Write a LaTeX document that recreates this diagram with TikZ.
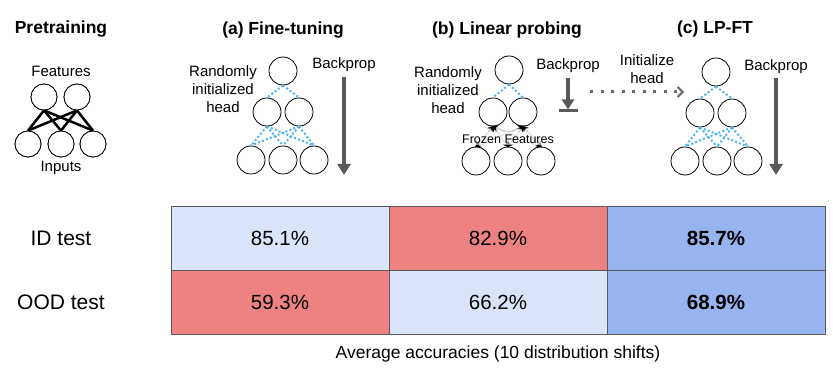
\documentclass[tikz,border=0pt]{standalone}
\usepackage{fontspec}
\setmainfont{Liberation Sans}
\usetikzlibrary{arrows.meta}
\definecolor{lblue}{HTML}{DAE4F8}
\definecolor{lred}{HTML}{ED8381}
\definecolor{mblue}{HTML}{95B4F0}
\definecolor{dotblue}{RGB}{80,180,240}
\definecolor{bpgray}{HTML}{595959}
\definecolor{frz}{HTML}{D0D0D0}
\begin{document}
\begin{tikzpicture}[x=1pt,y=-1pt,
  neuron/.style={circle,draw=black,line width=0.8pt,fill=white,minimum size=28pt,inner sep=0pt},
  pneuron/.style={neuron,minimum size=26pt},
  title/.style={font=\fontsize{17.5}{20}\selectfont\bfseries},
  lbl/.style={font=\fontsize{15}{18}\selectfont,align=center},
  hedge/.style={dotblue,line width=2pt,dash pattern=on 2pt off 2.2pt},
  pedge/.style={black,line width=2.5pt},
  fedge/.style={frz,line width=1.6pt,arrows={Stealth[color=black,length=6pt,width=6.5pt]-Stealth[color=black,length=6pt,width=6.5pt]}},
  bp/.style={bpgray,line width=4pt,-{Triangle[length=11pt,width=13pt]}},
  cell/.style={draw=gray!70!black,line width=0.8pt,minimum width=218pt,minimum height=64pt,inner sep=0pt,font=\fontsize{20.5}{24}\selectfont},
 ]
\useasboundingbox (0,0) rectangle (833,374);

% ---------- Pretraining ----------
\node[title] (tp) at (61,29) {Pretraining};
\node[lbl] (pfeat) at (61,71) {Features};
\node[pneuron] (p1) at (44,97) {};
\node[pneuron] (p2) at (77,97) {};
\node[pneuron] (q1) at (28,144) {};
\node[pneuron] (q2) at (61,144) {};
\node[pneuron] (q3) at (93,144) {};
\node[lbl] (pin) at (61,168) {Inputs};
\foreach \a in {p1,p2}{\foreach \b in {q1,q2,q3}{\draw[pedge] (\a.south) -- (\b.north);}}
\foreach \n in {p1,p2,q1,q2,q3}{\node[pneuron] at (\n) {};}

% ---------- (a) Fine-tuning ----------
\node[title] (ta) at (283,30) {(a) Fine-tuning};
\node[lbl] (ra) at (223,89) {Randomly\\initialized\\head};
\node[neuron] (a0) at (283,71) {};
\node[neuron] (a1) at (267,112) {};
\node[neuron] (a2) at (299,112) {};
\node[neuron] (a3) at (251,160) {};
\node[neuron] (a4) at (283,160) {};
\node[neuron] (a5) at (314,160) {};
\draw[hedge] (a0.south) -- (a1.north);
\draw[hedge] (a0.south) -- (a2.north);
\foreach \a in {a1,a2}{\foreach \b in {a3,a4,a5}{\draw[hedge] (\a.south) -- (\b.north);}}
\node[lbl] (bpa) at (344,65) {Backprop};
\coordinate (bpa1) at (344,77);
\coordinate (bpa2) at (344,175);
\draw[bp] (bpa1) -- (bpa2);

% ---------- (b) Linear probing ----------
\node[title] (tb) at (507,30) {(b) Linear probing};
\node[lbl] (rb) at (448,90) {Randomly\\initialized\\head};
\node[neuron] (b0) at (509,70) {};
\node[neuron] (b1) at (493,112) {};
\node[neuron] (b2) at (523,112) {};
\node[neuron] (b3) at (476,161) {};
\node[neuron] (b4) at (508,161) {};
\node[neuron] (b5) at (541,161) {};
\draw[hedge] (b0.south) -- (b1.north);
\draw[hedge] (b0.south) -- (b2.north);
\foreach \a in {b1,b2}{\foreach \b in {b3,b4,b5}{\draw[fedge,shorten <=-1pt,shorten >=-1pt] (\a.south) -- (\b.north);}}
\fill[white,opacity=0.55] (464,132.5) rectangle (552,145.5);
\node[font=\fontsize{12.5}{14}\selectfont,inner sep=0pt,text=black] (frozen) at (508,139) {Frozen Features};
\node[lbl] (bpb) at (568,66) {Backprop};
\coordinate (bpb1) at (568,78);
\coordinate (bpb2) at (568,109.5);
\coordinate (barl) at (559,111);
\coordinate (barr) at (578,111);
\draw[bpgray,line width=4pt,-{Triangle[length=10pt,width=12pt]}] (bpb1) -- (bpb2);
\draw[bpgray,line width=3pt] (barl) -- (barr);

% dotted initialize arrow
\node[lbl] (inith) at (647,69) {Initialize\\head};
\coordinate (ini1) at (590,92);
\coordinate (ini2) at (684,92);
\draw[bpgray!90,line width=3pt,dash pattern=on 3pt off 7.5pt,-{Straight Barb[length=5pt,width=10pt,line width=2pt]}] (ini1) -- (ini2);

% ---------- (c) LP-FT ----------
\node[title] (tc) at (715,29) {(c) LP-FT};
\node[neuron] (c0) at (716,72) {};
\node[neuron] (c1) at (700,113) {};
\node[neuron] (c2) at (732,113) {};
\node[neuron] (c3) at (685,161) {};
\node[neuron] (c4) at (717,161) {};
\node[neuron] (c5) at (748,161) {};
\draw[hedge] (c0.south) -- (c1.north);
\draw[hedge] (c0.south) -- (c2.north);
\foreach \a in {c1,c2}{\foreach \b in {c3,c4,c5}{\draw[hedge] (\a.south) -- (\b.north);}}
\node[lbl] (bpc) at (776,67) {Backprop};
\coordinate (bpc1) at (776,78);
\coordinate (bpc2) at (776,175);
\draw[bp] (bpc1) -- (bpc2);

% ---------- Table ----------
\node[font=\fontsize{21}{24}\selectfont] (rid) at (61,238) {ID test};
\node[font=\fontsize{21}{24}\selectfont] (rood) at (61,302) {OOD test};
\node[cell,fill=lblue] (c11) at (280,238) {85.1\%};
\node[cell,fill=lred]  (c12) at (498,238) {82.9\%};
\node[cell,fill=mblue] (c13) at (716,238) {\bfseries 85.7\%};
\node[cell,fill=lred]  (c21) at (280,302) {59.3\%};
\node[cell,fill=lblue] (c22) at (498,302) {66.2\%};
\node[cell,fill=mblue] (c23) at (716,302) {\bfseries 68.9\%};
\node[font=\fontsize{17.5}{20}\selectfont] (cap) at (498,354) {Average accuracies (10 distribution shifts)};
\end{tikzpicture}
\end{document}
